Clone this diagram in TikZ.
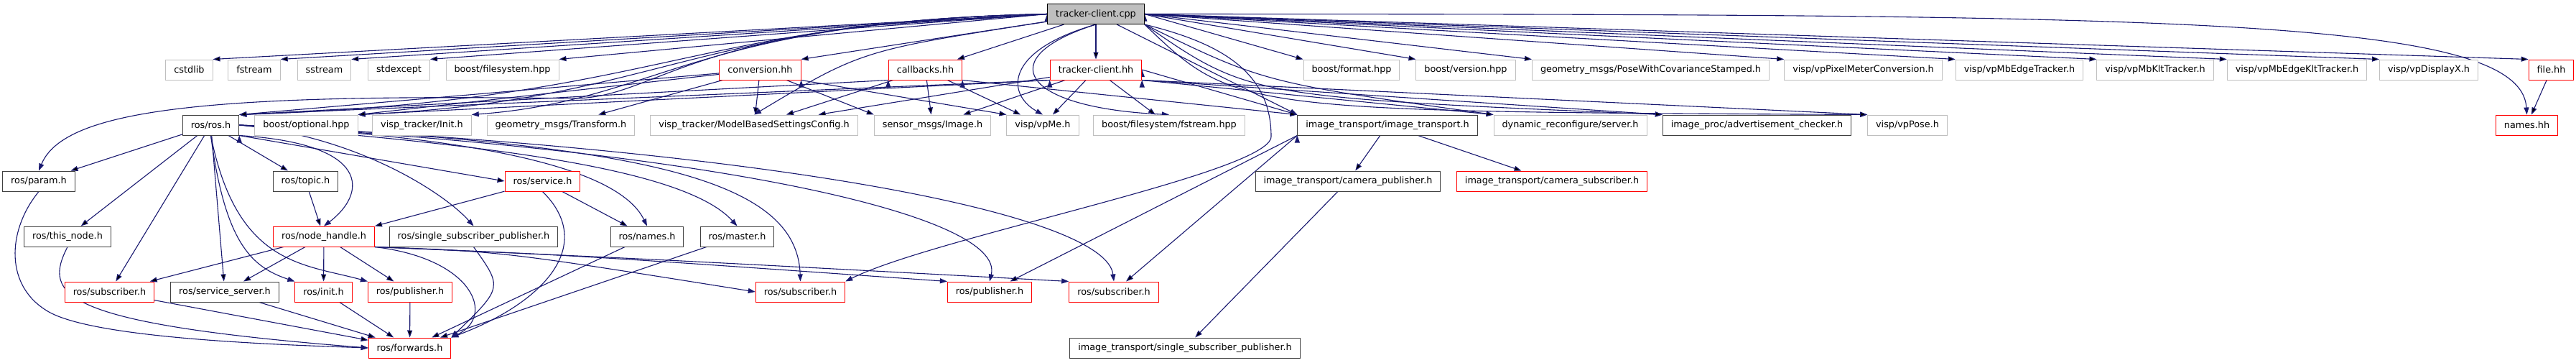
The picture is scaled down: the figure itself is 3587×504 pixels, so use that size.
\documentclass[tikz,border=0pt]{standalone}
\usepackage{fontspec}
\setmainfont{DejaVu Sans}
\usetikzlibrary{arrows.meta}
\usetikzlibrary{backgrounds}
\definecolor{edgeblue}{HTML}{191970}
\definecolor{boxgray}{HTML}{BFBFBF}
\definecolor{cutred}{HTML}{FF0000}
\definecolor{boxblack}{HTML}{404040}

\begin{document}
\begin{tikzpicture}[x=1pt,y=-1pt,>={Triangle[length=10pt,width=7pt]},
hdrblock/.style={draw=boxblack,fill=white,rectangle,inner xsep=11.5pt,inner ysep=0pt,minimum height=28pt,line width=1pt,font=\fontsize{12.8pt}{15pt}\selectfont},
extblock/.style={hdrblock,draw=boxgray},
cutblock/.style={hdrblock,draw=cutred},
rootblock/.style={hdrblock,draw=black,fill=boxgray},
dep/.style={->,draw=edgeblue,line width=1.1pt}]

\useasboundingbox (0,0) rectangle (3587,504);

\node[rootblock] (root) at (1526,19.5) {tracker-client.cpp};

\node[extblock] (cstdlib) at (263.5,97) {cstdlib};
\node[extblock] (fstream) at (354,97) {fstream};
\node[extblock] (sstream) at (451.5,97) {sstream};
\node[extblock] (stdexcept) at (555.5,97) {stdexcept};
\node[extblock] (boostfs) at (699.5,97) {boost/filesystem.hpp};
\node[cutblock] (conversion) at (1058.5,97) {conversion.hh};
\node[cutblock] (callbacks) at (1288.5,97) {callbacks.hh};
\node[cutblock] (clienthh) at (1526,97) {tracker-client.hh};
\node[extblock] (bformat) at (1882,97) {boost/format.hpp};
\node[extblock] (bversion) at (2041,97) {boost/version.hpp};
\node[extblock] (posecov) at (2298.5,97) {geometry\_msgs/PoseWithCovarianceStamped.h};
\node[extblock] (pixmeter) at (2594.5,97) {visp/vpPixelMeterConversion.h};
\node[extblock] (mbedge) at (2812,97) {visp/vpMbEdgeTracker.h};
\node[extblock] (mbklt) at (3001,97) {visp/vpMbKltTracker.h};
\node[extblock] (mbedgeklt) at (3198.5,97) {visp/vpMbEdgeKltTracker.h};
\node[extblock] (displayx) at (3382,97) {visp/vpDisplayX.h};
\node[cutblock] (filehh) at (3552.5,97) {file.hh};

\node[hdrblock] (rosros) at (293.5,174) {ros/ros.h};
\node[extblock] (optional) at (426.5,174) {boost/optional.hpp};
\node[extblock] (inith) at (587.5,174) {visp\_tracker/Init.h};
\node[extblock] (transform) at (781,174) {geometry\_msgs/Transform.h};
\node[extblock] (mbsconfig) at (1050,174) {visp\_tracker/ModelBasedSettingsConfig.h};
\node[extblock] (senimage) at (1298.5,174) {sensor\_msgs/Image.h};
\node[extblock] (vpme) at (1452,174) {visp/vpMe.h};
\node[extblock] (fsfstream) at (1628,174) {boost/filesystem/fstream.hpp};
\node[hdrblock] (imgtrans) at (1932,174) {image\_transport/image\_transport.h};
\node[extblock] (dynreconf) at (2186.5,174) {dynamic\_reconfigure/server.h};
\node[hdrblock] (adcheck) at (2446.5,174) {image\_proc/advertisement\_checker.h};
\node[extblock] (vppose) at (2656,174) {visp/vpPose.h};
\node[cutblock] (nameshh) at (3518.5,174) {names.hh};

\node[hdrblock] (param) at (54,252) {ros/param.h};
\node[hdrblock] (topic) at (425.5,252) {ros/topic.h};
\node[cutblock] (service) at (755.5,252) {ros/service.h};
\node[hdrblock] (campub) at (1877,252) {image\_transport/camera\_publisher.h};
\node[cutblock] (camsub) at (2161,252) {image\_transport/camera\_subscriber.h};

\node[hdrblock] (thisnode) at (94,329) {ros/this\_node.h};
\node[cutblock] (nodehandle) at (451,329) {ros/node\_handle.h};
\node[hdrblock] (ssp) at (659.5,329) {ros/single\_subscriber\_publisher.h};
\node[hdrblock] (rosnames) at (901,329) {ros/names.h};
\node[hdrblock] (master) at (1026.5,329) {ros/master.h};

\node[cutblock] (subA) at (152.5,406) {ros/subscriber.h};
\node[hdrblock] (srvserver) at (313,406) {ros/service\_server.h};
\node[cutblock] (init) at (450.5,406) {ros/init.h};
\node[cutblock] (pubA) at (571,406) {ros/publisher.h};
\node[cutblock] (subB) at (1114.5,406) {ros/subscriber.h};
\node[cutblock] (pubB) at (1378,406) {ros/publisher.h};
\node[cutblock] (subC) at (1551,406) {ros/subscriber.h};

\node[cutblock] (forwards) at (570.5,484) {ros/forwards.h};
\node[hdrblock] (itssp) at (1650,484) {image\_transport/single\_subscriber\_publisher.h};

\begin{scope}[on background layer]
\fill[white] (0,0) rectangle (3587,504);

\path[dep] (root.west) edge (cstdlib.north east) edge (fstream.north east) edge (sstream.north east) edge (stdexcept.north east) edge (boostfs.north east);
\path[dep] (root) edge (conversion.north east) edge (callbacks) edge (clienthh);
\path[dep] (root.east) edge (bformat.north west) edge (bversion.north west) edge (posecov.north west) edge (pixmeter.north west) edge (mbedge.north west) edge (mbklt.north west) edge (mbedgeklt.north west) edge (displayx.north west) edge (filehh.north west);
\draw[dep] (root.west) .. controls (960,30) and (920,140) .. (rosros.north east);
\draw[dep] (root.west) .. controls (960,30) and (920,140) .. (optional.north east);
\draw[dep] (root.west) .. controls (960,30) and (920,140) .. (inith.north east);
\draw[dep] (root.west) .. controls (960,30) and (920,135) .. (800,137) .. controls (300,130) and (90,150) .. (param.north);
\draw[dep] (root) .. controls (1200,70) .. (mbsconfig.north);
\draw[dep] (root.south) .. controls (1400,70) and (1400,130) .. (vpme.north);
\draw[dep] (root.south) .. controls (1380,80) and (1420,150) .. (fsfstream.north);
\draw[dep] (root) -- (imgtrans.north west);
\draw[dep] (root.south east) .. controls (1760,115) .. (dynreconf.north west);
\draw[dep] (root.south east) .. controls (1740,135) .. (adcheck.north west);
\draw[dep] (root.south east) .. controls (1720,155) .. (vppose.north west);
\draw[dep] (root.east) .. controls (3000,20) and (3510,20) .. (nameshh.north);
\draw[dep] (root.south east) .. controls (1700,60) and (1770,100) .. (1770,190) .. controls (1770,240) and (1300,330) .. (subB.north east);

\path[dep] (clienthh.south west) edge (rosros.north east) edge (optional.north east);
\path[dep] (clienthh) edge (mbsconfig) edge (senimage) edge (vpme) edge (fsfstream);
\path[dep] (clienthh.east) edge (imgtrans.north west);
\path[dep] (clienthh.south east) edge (dynreconf.north west) edge (adcheck.north west) edge (vppose.north west);

\path[dep] (callbacks.south west) edge (rosros.north east);
\path[dep] (callbacks) edge (mbsconfig) edge (senimage) edge (vpme);
\path[dep] (callbacks.south east) edge (imgtrans.north west);

\path[dep] (conversion) edge (rosros.north east) edge (optional.north east) edge (transform) edge (mbsconfig) edge (senimage.north west);
\path[dep] (conversion.south east) edge (vpme.north west);

\path[dep] (filehh) edge (nameshh);

\path[dep] (rosros) edge (param) edge (thisnode) edge (topic) edge (subA) edge (srvserver);
\path[dep] (rosros.south east) edge (service.west);
\draw[dep] (rosros.south east) .. controls (520,200) and (510,270) .. (nodehandle.north);
\draw[dep] (rosros.east) .. controls (500,190) and (620,270) .. (ssp.north);
\draw[dep] (rosros.east) .. controls (650,190) and (860,230) .. (rosnames.north);
\draw[dep] (rosros.east) .. controls (650,200) and (950,230) .. (master.north);
\draw[dep] (rosros.south) .. controls +(20,150) and +(-60,-20) .. (init.north west);
\draw[dep] (rosros.south) .. controls (330,370) and (423,367) .. (pubA.north west);
\draw[dep] (rosros.east) .. controls (900,200) and (1110,250) .. (subB.north);
\draw[dep] (rosros.east) .. controls (1000,210) and (1400,300) .. (pubB.north);
\draw[dep] (rosros.east) .. controls (1100,210) and (1540,300) .. (subC.north);

\path[dep] (service) edge (nodehandle.north east) edge (rosnames);
\draw[dep] (service.south) .. controls (830,340) and (760,420) .. (forwards.north east);
\path[dep] (topic) edge (nodehandle);

\path[dep] (nodehandle) edge (subA) edge (srvserver) edge (init) edge (pubA);
\draw[dep] (nodehandle.south east) .. controls (660,360) and (690,440) .. (forwards.north east);
\draw[dep] (nodehandle.south east) .. controls (700,350) .. (subB.west);
\draw[dep] (nodehandle.south east) .. controls (800,355) .. (pubB.north west);
\draw[dep] (nodehandle.south east) .. controls (900,360) .. (subC.north west);

\draw[dep] (param.south) .. controls (10,320) and (5,400) .. (70,435) .. controls (140,472) and (400,480) .. (forwards.west);
\draw[dep] (thisnode.south) .. controls (60,410) and (80,450) .. (forwards.west);
\path[dep] (subA) edge (forwards) (srvserver) edge (forwards) (init) edge (forwards) (pubA) edge (forwards);
\draw[dep] (ssp.south) .. controls (700,400) .. (forwards.north east);
\path[dep] (rosnames) edge (forwards) (master) edge (forwards);

\path[dep] (imgtrans) edge (campub) edge (camsub);
\path[dep] (imgtrans.south west) edge (pubB) edge (subC);
\path[dep] (campub) edge (itssp);
\end{scope}

\end{tikzpicture}
\end{document}
